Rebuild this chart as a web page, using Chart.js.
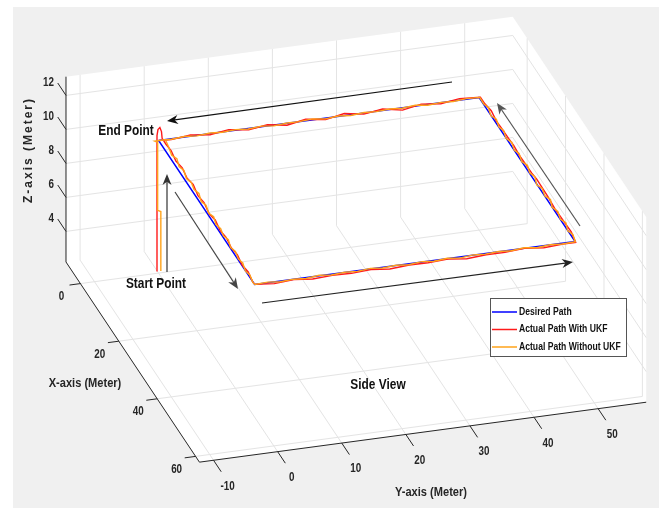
<!DOCTYPE html>
<html><head><meta charset="utf-8">
<script src="https://cdn.jsdelivr.net/npm/chart.js@4/dist/chart.umd.min.js"></script>
<style>html,body{margin:0;padding:0;background:#fff}canvas{display:block}</style>
</head><body>
<canvas id="c" width="659" height="508"></canvas>
<script>
// ---- axis ticks / limits ----
const xTicks = [0, 20, 40, 60];
const yTicks = [-10, 0, 10, 20, 30, 40, 50];
const zTicks = [4, 6, 8, 10, 12];
const xLim = [-7.5, 62];
const yLim = [-12.2, 57.5];
const zLim = [2.2, 13.1];
const seriesNames = ['Desired Path', 'Actual Path With UKF', 'Actual Path Without UKF'];

// ---- desired path ----
const desiredX = [0, 50, 50, 0, 0];
const desiredY = [0, 0, 50, 50, 0];
const desiredZ = [10, 10, 10, 10, 10];

// ---- actual path with UKF ----
const ukfX = [0, 0, 0, 0, 0, 0, 1.5,
  4, 7, 10, 13, 16, 19, 22, 25, 28, 31, 34, 37, 40, 43, 46, 49, 50,
  50.3, 50.4, 50.2, 50.4, 50.3, 50.5, 50.3, 50.4, 50.2, 50.4, 50.3, 50.4, 50.2, 50.3, 50.4, 50.3, 50.3,
  47, 44, 41, 38, 35, 32, 29, 26, 23, 20, 17, 14, 11, 8, 5, 2, 0,
  -0.2, 0.1, -0.1, 0.2, -0.2, 0.1, -0.1, 0.2, -0.2, 0.1, -0.1, 0.2, -0.2, 0.1, -0.1, 0, 0];
const ukfY = [-0.25, -0.25, -0.1, 0.2, 0.45, 0.55, 0.7,
  0.75, 0.6, 0.7, 0.55, 0.6, 0.45, 0.5, 0.4, 0.45, 0.3, 0.35, 0.25, 0.3, 0.15, 0.2, 0.05, 0.1,
  3, 6, 9, 12, 15, 18, 21, 24, 27, 30, 33, 36, 39, 42, 45, 48, 50,
  50.3, 50.4, 50.2, 50.4, 50.3, 50.5, 50.3, 50.4, 50.2, 50.4, 50.3, 50.4, 50.2, 50.3, 50.4, 50.3, 50.2,
  47, 44, 41, 38, 35, 32, 29, 26, 23, 20, 17, 14, 11, 8, 5, 2, 0];
const ukfZ = [2.3, 10.3, 10.65, 10.75, 10.5, 10.1, 10.0,
  10.05, 9.95, 10.05, 9.95, 10.1, 9.95, 10.05, 9.9, 10.05, 9.95, 10.05, 9.95, 10.05, 9.95, 10.05, 9.95, 10.0,
  9.95, 10.05, 9.9, 10.0, 9.95, 10.05, 9.9, 10.0, 9.95, 10.05, 9.9, 10.0, 9.95, 10.05, 9.95, 10.0, 10.0,
  10.05, 9.95, 10.05, 9.9, 10.05, 9.95, 10.1, 9.95, 10.05, 9.9, 10.05, 9.95, 10.05, 9.95, 10.05, 9.95, 10.0,
  10.05, 9.95, 10.05, 9.9, 10.05, 9.95, 10.1, 9.95, 10.05, 9.9, 10.05, 9.95, 10.05, 9.95, 10.05, 9.95, 10.0];

// ---- actual path without UKF ----
const rawX = [0, 0, 0, 0, 0, 0, 1,
  3, 5, 7, 9, 11, 13, 15, 17, 19, 21, 23, 25, 27, 29, 31, 33, 35, 37, 39, 41, 43, 45, 47, 49, 50,
  50.2, 49.95, 50.3, 50.05, 50.25, 49.95, 50.3, 50.05, 50.2, 49.95, 50.25, 50.05, 50.3, 50.0, 50.2, 50.05, 50.3, 49.95, 50.25, 50.05, 50.2, 50.0, 50.3, 50.05, 50.1,
  48, 46, 44, 42, 40, 38, 36, 34, 32, 30, 28, 26, 24, 22, 20, 18, 16, 14, 12, 10, 8, 6, 4, 2, 0,
  0.2, -0.1, 0.25, -0.05, 0.2, -0.15, 0.15, -0.05, 0.25, -0.1, 0.2, -0.05, 0.15, -0.15, 0.25, -0.05, 0.2, -0.1, 0.15, -0.05, 0.2, -0.1, 0.15, 0.0, 0.0];
const rawY = [0.35, 0.35, -0.15, -0.15, -0.6, 1.0, 0.9,
  0.7, 0.55, 0.75, 0.5, 0.65, 0.45, 0.6, 0.45, 0.6, 0.35, 0.5, 0.35, 0.5, 0.25, 0.4, 0.25, 0.4, 0.15, 0.3, 0.15, 0.25, 0.05, 0.15, 0.0, 0.05,
  2, 4, 6, 8, 10, 12, 14, 16, 18, 20, 22, 24, 26, 28, 30, 32, 34, 36, 38, 40, 42, 44, 46, 48, 50,
  50.25, 50.05, 50.35, 50.1, 50.3, 50.0, 50.35, 50.1, 50.25, 50.0, 50.3, 50.1, 50.35, 50.05, 50.25, 50.1, 50.3, 50.0, 50.25, 50.1, 50.3, 50.05, 50.25, 50.1, 50.1,
  48, 46, 44, 42, 40, 38, 36, 34, 32, 30, 28, 26, 24, 22, 20, 18, 16, 14, 12, 10, 8, 6, 4, 2, 0];
const rawZ = [2.3, 5.8, 5.9, 9.9, 10.0, 10.0, 10.05,
  10.06, 9.95, 10.08, 9.97, 10.07, 9.94, 10.05, 9.97, 10.08, 9.95, 10.06, 9.94, 10.07, 9.97, 10.05, 9.95, 10.08, 9.96, 10.06, 9.97, 10.07, 9.95, 10.05, 9.97, 10.0,
  10.07, 9.95, 10.06, 9.96, 10.08, 9.94, 10.06, 9.97, 10.07, 9.95, 10.06, 9.96, 10.08, 9.95, 10.06, 9.94, 10.07, 9.96, 10.06, 9.97, 10.07, 9.94, 10.06, 9.96, 10.0,
  10.06, 9.95, 10.07, 9.94, 10.06, 9.97, 10.08, 9.95, 10.06, 9.94, 10.07, 9.97, 10.06, 9.95, 10.08, 9.94, 10.06, 9.97, 10.07, 9.95, 10.06, 9.94, 10.07, 9.97, 10.0,
  10.07, 9.95, 10.06, 9.94, 10.08, 9.95, 10.06, 9.97, 10.07, 9.94, 10.06, 9.95, 10.08, 9.97, 10.06, 9.94, 10.07, 9.95, 10.06, 9.97, 10.07, 9.95, 10.06, 9.97, 10.0];

const colors = ['#0000ff', '#ff1a1a', '#ffa31a'];

// ---- orthographic view projection (MATLAB-like 3D view) ----
const VIEW = { ox: 158.6, oy: 310.5, ex: [1.92, 2.88], ey: [6.41, -0.86], ez: [0, -17] };
function proj(X, Y, Z) {
  return { x: VIEW.ox + VIEW.ex[0] * X + VIEW.ey[0] * Y + VIEW.ez[0] * Z,
           y: VIEW.oy + VIEW.ex[1] * X + VIEW.ey[1] * Y + VIEW.ez[1] * Z };
}
function toPts(xs, ys, zs) { return xs.map((v, i) => proj(v, ys[i], zs[i])); }

function ntext(ctx, s, x, y, size, align, color, sx) {
  ctx.save();
  ctx.translate(x, y);
  ctx.scale(sx || 0.82, 1);
  ctx.font = 'bold ' + size + 'px "Liberation Sans", Arial, sans-serif';
  ctx.textAlign = align; ctx.textBaseline = 'middle';
  ctx.fillStyle = color || '#262626';
  ctx.fillText(s, 0, 0);
  ctx.restore();
}

const scenePlugin = {
  id: 'scene',
  beforeDatasetsDraw(chart) {
    const ctx = chart.ctx, sx = chart.scales.x, sy = chart.scales.y;
    const P = (X, Y, Z) => { const p = proj(X, Y, Z); return [sx.getPixelForValue(p.x), sy.getPixelForValue(p.y)]; };
    const line = (a, b, col, w) => { ctx.beginPath(); ctx.moveTo(a[0], a[1]); ctx.lineTo(b[0], b[1]); ctx.strokeStyle = col; ctx.lineWidth = w; ctx.stroke(); };
    ctx.save();
    ctx.fillStyle = '#ffffff'; ctx.fillRect(0, 0, chart.width, chart.height);
    ctx.fillStyle = '#f0f0f0'; ctx.fillRect(13, 7, chart.width - 13, chart.height - 7);
    const [x0, x1] = xLim, [y0, y1] = yLim, [z0, z1] = zLim;
    const poly = [P(x0, y0, z1), P(x0, y1, z1), P(x1, y1, z1), P(x1, y1, z0), P(x1, y0, z0), P(x0, y0, z0)];
    ctx.beginPath(); poly.forEach((p, i) => i ? ctx.lineTo(p[0], p[1]) : ctx.moveTo(p[0], p[1])); ctx.closePath();
    ctx.fillStyle = '#ffffff'; ctx.fill();
    const g = '#e4e4e4';
    xTicks.forEach(X => { line(P(X, y0, z0), P(X, y1, z0), g, 1); line(P(X, y1, z0), P(X, y1, z1), g, 1); });
    yTicks.forEach(Y => { line(P(x0, Y, z0), P(x1, Y, z0), g, 1); line(P(x0, Y, z0), P(x0, Y, z1), g, 1); });
    zTicks.forEach(Z => { line(P(x0, y0, Z), P(x0, y1, Z), g, 1); line(P(x0, y1, Z), P(x1, y1, Z), g, 1); });
    const ax = '#262626';
    line(P(x0, y0, z0), P(x0, y0, z1), ax, 1);
    line(P(x0, y0, z0), P(x1, y0, z0), ax, 1);
    line(P(x1, y0, z0), P(x1, y1, z0), ax, 1);
    xTicks.forEach(X => { const a = P(X, y0, z0); line(a, P(X, y0 - 1.7, z0), ax, 1); ntext(ctx, String(X), a[0] - 19, a[1] + 13, 12, 'center'); });
    yTicks.forEach(Y => { const a = P(x1, Y, z0); line(a, P(x1 + 4, Y, z0), ax, 1); ntext(ctx, String(Y), a[0] + 14, a[1] + 26, 12, 'center'); });
    zTicks.forEach(Z => { const a = P(x0, y0, Z); line(a, P(x0 - 4.3, y0, Z), ax, 1); ntext(ctx, String(Z), a[0] - 12, a[1] - 13, 12, 'right'); });
    ntext(ctx, 'X-axis (Meter)', 85, 383, 13.5, 'center');
    ntext(ctx, 'Y-axis (Meter)', 431, 492, 13.5, 'center');
    ctx.save();
    ctx.translate(29, 150); ctx.rotate(-Math.PI / 2);
    ctx.font = 'bold 12px "Liberation Sans", Arial, sans-serif';
    if ('letterSpacing' in ctx) ctx.letterSpacing = '2px';
    ctx.textAlign = 'center'; ctx.textBaseline = 'middle'; ctx.fillStyle = '#262626';
    ctx.fillText('Z-axis (Meter)', 0, 0);
    ctx.restore();
    ctx.restore();
  },
  afterDatasetsDraw(chart) {
    const ctx = chart.ctx;
    ctx.save();
    const arrow = (x1, y1, x2, y2, col) => {
      const ang = Math.atan2(y2 - y1, x2 - x1), L = 11, W = 4.5;
      ctx.strokeStyle = col; ctx.fillStyle = col; ctx.lineWidth = 1.2;
      ctx.beginPath(); ctx.moveTo(x1, y1); ctx.lineTo(x2 - Math.cos(ang) * 6, y2 - Math.sin(ang) * 6); ctx.stroke();
      const bx = x2 - Math.cos(ang) * L, by = y2 - Math.sin(ang) * L;
      const mx = x2 - Math.cos(ang) * (L * 0.7), my = y2 - Math.sin(ang) * (L * 0.7);
      ctx.beginPath(); ctx.moveTo(x2, y2);
      ctx.lineTo(bx - Math.sin(ang) * W, by + Math.cos(ang) * W);
      ctx.lineTo(mx, my);
      ctx.lineTo(bx + Math.sin(ang) * W, by - Math.cos(ang) * W);
      ctx.closePath(); ctx.fill();
    };
    arrow(452, 82, 167, 121, '#111');
    arrow(580, 226, 497, 103, '#555');
    arrow(262, 303, 573, 262, '#222');
    arrow(175, 192, 238, 289, '#444');
    arrow(167, 272, 167, 174, '#333');
    ntext(ctx, 'End Point', 126, 131, 14.5, 'center', '#111');
    ntext(ctx, 'Start Point', 156, 284, 14.5, 'center', '#111');
    ntext(ctx, 'Side View', 378, 385, 14.5, 'center', '#111');
    ctx.fillStyle = '#ffffff'; ctx.fillRect(490.5, 298.5, 136, 58);
    ctx.strokeStyle = '#555'; ctx.lineWidth = 1; ctx.strokeRect(490.5, 298.5, 136, 58);
    const rows = [312, 329.5, 347];
    chart.data.datasets.forEach((d, i) => {
      ctx.beginPath(); ctx.moveTo(492, rows[i]); ctx.lineTo(517, rows[i]);
      ctx.strokeStyle = d.borderColor; ctx.lineWidth = 1.5; ctx.stroke();
      ntext(ctx, d.label, 519, rows[i], 10.5, 'left', '#111');
    });
    ctx.restore();
  }
};

new Chart(document.getElementById('c'), {
  type: 'scatter',
  data: {
    datasets: [
      { label: seriesNames[0], data: toPts(desiredX, desiredY, desiredZ), borderColor: colors[0], order: 3 },
      { label: seriesNames[1], data: toPts(ukfX, ukfY, ukfZ), borderColor: colors[1], order: 2 },
      { label: seriesNames[2], data: toPts(rawX, rawY, rawZ), borderColor: colors[2], order: 1 }
    ].map(d => Object.assign(d, { showLine: true, pointRadius: 0, borderWidth: 1.4, tension: 0, fill: false, backgroundColor: d.borderColor }))
  },
  options: {
    responsive: false, animation: false, maintainAspectRatio: false,
    layout: { padding: 0 },
    plugins: { legend: { display: false }, tooltip: { enabled: false } },
    scales: {
      x: { type: 'linear', min: 0, max: 659, display: false },
      y: { type: 'linear', min: 0, max: 508, reverse: true, display: false }
    }
  },
  plugins: [scenePlugin]
});
</script>
</body></html>
